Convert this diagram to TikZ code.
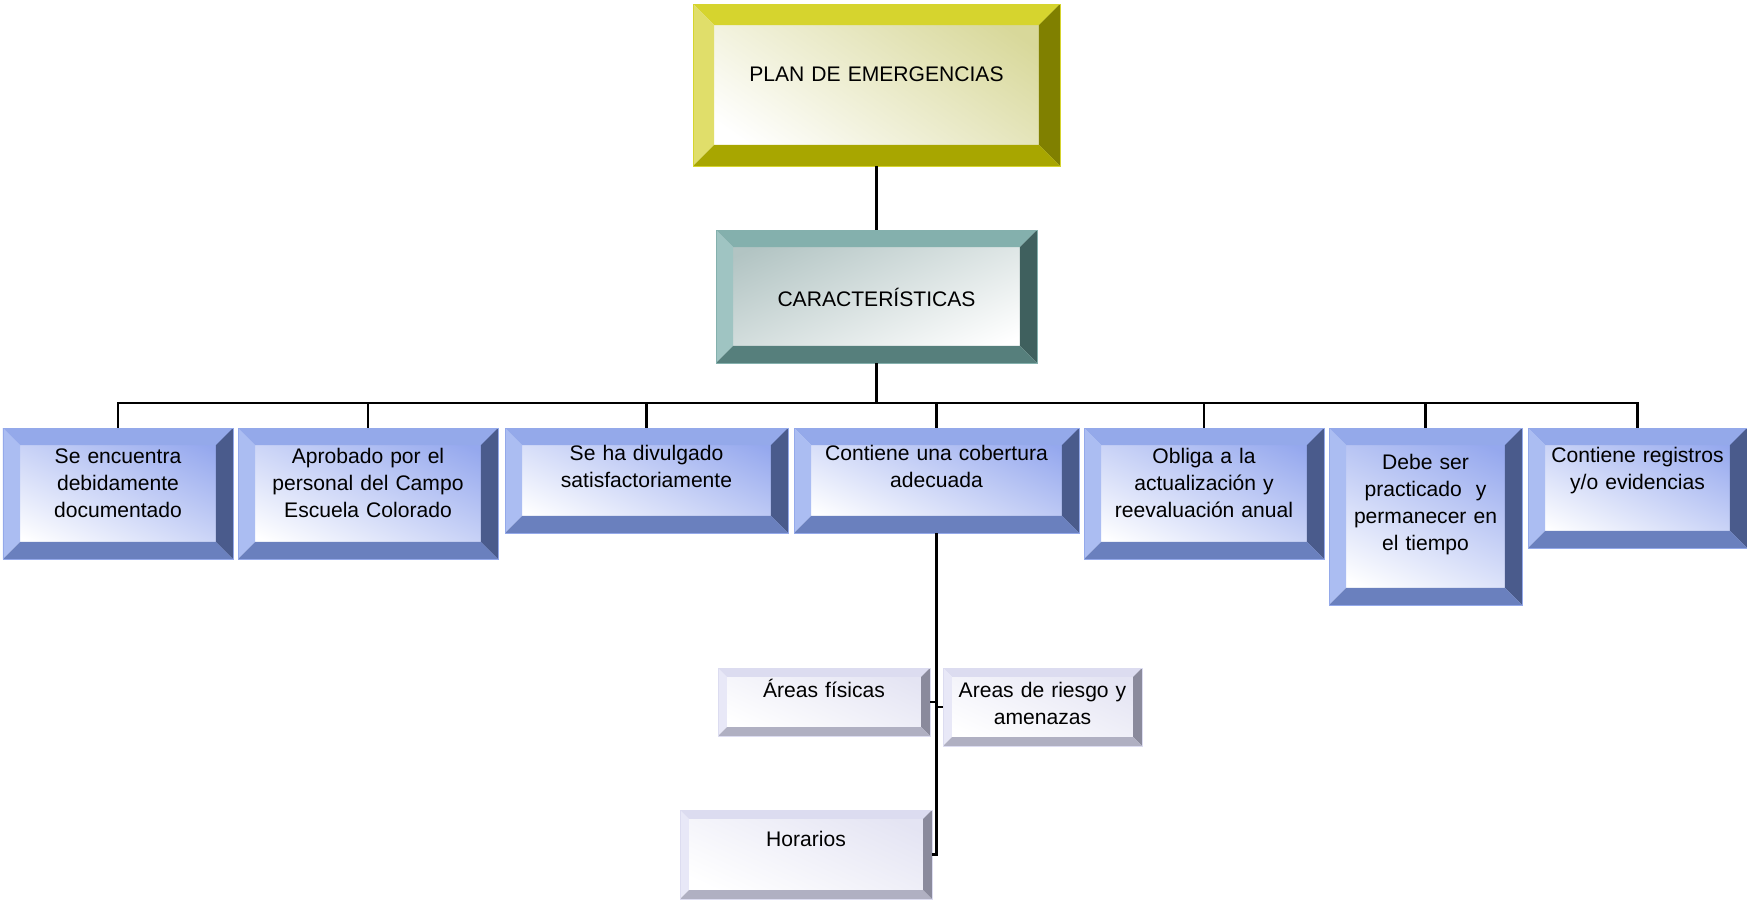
\documentclass[tikz,border=0pt]{standalone}
\usepackage{fontspec}
\setmainfont{Liberation Sans}

\definecolor{plantop}{HTML}{D6D42E}
\definecolor{planleft}{HTML}{E0DE6A}
\definecolor{planright}{HTML}{808000}
\definecolor{planbot}{HTML}{A8A600}
\definecolor{plantint}{HTML}{D8D89A}
\definecolor{cartop}{HTML}{84B0AD}
\definecolor{carleft}{HTML}{9FC4C2}
\definecolor{carright}{HTML}{3F605E}
\definecolor{carbot}{HTML}{567F7C}
\definecolor{cartint}{HTML}{B2C4C3}
\definecolor{bltop}{HTML}{94A9EA}
\definecolor{blleft}{HTML}{ABBDF2}
\definecolor{blright}{HTML}{4A5B8C}
\definecolor{blbot}{HTML}{6A80BE}
\definecolor{bltint}{HTML}{95A8EE}
\definecolor{sbtop}{HTML}{DCDCF0}
\definecolor{sbleft}{HTML}{E8E8F7}
\definecolor{sbright}{HTML}{8A8A9C}
\definecolor{sbbot}{HTML}{B0B0C2}
\definecolor{sbtint}{HTML}{E4E4F3}

\newcommand{\boxfont}{\fontsize{12pt}{15.4pt}\selectfont}

\tikzset{
  % bevel width, top, left, right, bottom, inner tint, shading angle
  bevel/.style n args={7}{
    rectangle, inner sep=0pt, draw=#2, line width=0.4pt,
    path picture={
      \path (path picture bounding box.north west) coordinate (nw)
            (path picture bounding box.north east) coordinate (ne)
            (path picture bounding box.south west) coordinate (sw)
            (path picture bounding box.south east) coordinate (se);
      \shade[top color=#6, bottom color=white, shading angle=#7] (sw) rectangle (ne);
      \fill[#2] (nw) -- (ne) -- ([shift={(-#1,-#1)}]ne) -- ([shift={(#1,-#1)}]nw) -- cycle;
      \fill[#3] (nw) -- ([shift={(#1,-#1)}]nw) -- ([shift={(#1,#1)}]sw) -- (sw) -- cycle;
      \fill[#4] (ne) -- ([shift={(-#1,-#1)}]ne) -- ([shift={(-#1,#1)}]se) -- (se) -- cycle;
      \fill[#5] (sw) -- ([shift={(#1,#1)}]sw) -- ([shift={(-#1,#1)}]se) -- (se) -- cycle;
    }
  },
  planbox/.style={bevel={12pt}{plantop}{planleft}{planright}{planbot}{plantint}{-35}},
  carbox/.style={bevel={9.7pt}{cartop}{carleft}{carright}{carbot}{cartint}{25}},
  bluebox/.style={bevel={9.7pt}{bltop}{blleft}{blright}{blbot}{bltint}{-25}},
  subbox/.style={bevel={5.1pt}{sbtop}{sbleft}{sbright}{sbbot}{sbtint}{-25}},
  txt/.style={anchor=base, inner sep=0pt, align=center, text width=7cm, font=\boxfont},
  conn/.style={line width=1.2pt}
}

\begin{document}
\begin{tikzpicture}
  \useasboundingbox (0,0) rectangle (34.94,-17.98);

  % top levels
  \node[planbox, minimum width=7.34cm, minimum height=3.24cm,
        label={[txt, yshift=-1.56cm]north:PLAN DE EMERGENCIAS}] (plan) at (17.53,-1.70) {};
  \node[carbox, minimum width=6.42cm, minimum height=2.66cm,
        label={[txt, yshift=-1.54cm]north:CARACTERÍSTICAS}] (car) at (17.53,-5.93) {};

  % characteristics
  \node[bluebox, minimum width=4.60cm, minimum height=2.62cm,
        label={[txt, yshift=-0.72cm]north:{Se encuentra\\debidamente\\documentado}}] (b1) at (2.36,-9.87) {};
  \node[bluebox, minimum width=5.20cm, minimum height=2.62cm,
        label={[txt, yshift=-0.72cm]north:{Aprobado por el\\personal del Campo\\Escuela Colorado}}] (b2) at (7.36,-9.87) {};
  \node[bluebox, minimum width=5.66cm, minimum height=2.10cm,
        label={[txt, yshift=-0.66cm]north:{Se ha divulgado\\satisfactoriamente}}] (b3) at (12.93,-9.61) {};
  \node[bluebox, minimum width=5.70cm, minimum height=2.10cm,
        label={[txt, yshift=-0.66cm]north:{Contiene una cobertura\\adecuada}}] (b4) at (18.73,-9.61) {};
  \node[bluebox, minimum width=4.80cm, minimum height=2.62cm,
        label={[txt, yshift=-0.72cm]north:{Obliga a la\\actualización y\\reevaluación anual}}] (b5) at (24.08,-9.87) {};
  \node[bluebox, minimum width=3.86cm, minimum height=3.54cm,
        label={[txt, yshift=-0.83cm]north:{Debe ser\\practicado\ \ y\\permanecer en\\el tiempo}}] (b6) at (28.51,-10.33) {};
  \node[bluebox, minimum width=4.38cm, minimum height=2.40cm,
        label={[txt, yshift=-0.70cm]north:{Contiene registros\\y/o evidencias}}] (b7) at (32.75,-9.76) {};

  % cobertura
  \node[subbox, minimum width=4.24cm, minimum height=1.36cm,
        label={[txt, yshift=-0.60cm]north:Áreas físicas}] (fis) at (16.48,-14.04) {};
  \node[subbox, minimum width=3.98cm, minimum height=1.56cm,
        label={[txt, yshift=-0.60cm]north:{Areas de riesgo y\\amenazas}}] (rie) at (20.85,-14.14) {};
  \node[subbox, minimum width=5.04cm, minimum height=1.78cm,
        label={[txt, yshift=-0.74cm]north:Horarios}] (hor) at (16.12,-17.09) {};

  % connectors
  \coordinate (bus) at (17.53,-8.06);
  \draw[conn] (plan) -- (car);
  \draw[conn] (car.south) -- (bus);
  \draw[conn] (b1.north) |- (bus) -| (b7.north);
  \foreach \b in {b2,b3,b4,b5,b6}
    \draw[conn] (\b.north) -- (\b.north |- bus);
  \draw[conn] (b4.south) |- (hor.east);
  \draw[conn] (fis.east) -- (fis.east -| b4.south);
  \draw[conn] (rie.west) -- (rie.west -| b4.south);
\end{tikzpicture}
\end{document}
